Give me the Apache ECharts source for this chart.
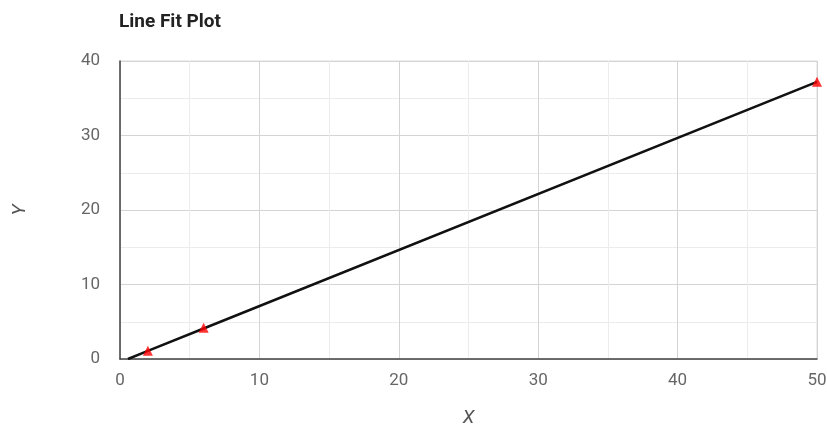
<!DOCTYPE html>
<html>
<head>
<meta charset="utf-8">
<script src="https://cdn.jsdelivr.net/npm/echarts@6/dist/echarts.min.js"></script>
<style>
  html, body { margin: 0; padding: 0; background: #fff; }
  #chart { width: 827px; height: 429px; }
</style>
</head>
<body>
<div id="chart"></div>
<script>
// Observed samples
const obsX = [2, 6, 50];
const obsY = [1.1, 4.2, 37.2];

// Fitted line, from its zero crossing to the last sample
const fitX = [0.57, 2, 6, 50];
const fitY = [0, 1.08, 4.09, 37.2];

// Axis ranges and ticks
const xTicks = [0, 10, 20, 30, 40, 50];
const yTicks = [0, 10, 20, 30, 40];

const chart = echarts.init(document.getElementById('chart'), null, { renderer: 'canvas' });

const FONT = 'Roboto, Arial, sans-serif';
const labelStyle = { color: '#666', fontSize: 17, fontFamily: FONT };
const nameStyle = { fontStyle: 'italic', color: '#555', fontSize: 19, fontFamily: FONT };

chart.setOption({
  animation: false,
  title: {
    text: 'Line Fit Plot',
    left: 114,
    top: 8,
    textStyle: { fontSize: 19, fontWeight: 'bold', color: '#222', fontFamily: FONT }
  },
  grid: {
    left: 120, right: 10, top: 61, bottom: 70,
    outerBoundsMode: 'none',
    containLabel: false,
    show: true, borderColor: '#ddd', borderWidth: 1
  },
  xAxis: {
    type: 'value',
    min: xTicks[0],
    max: xTicks[xTicks.length - 1],
    interval: 10,
    name: 'X',
    nameLocation: 'middle',
    nameGap: 50,
    nameTextStyle: nameStyle,
    axisLine: { show: true, onZero: false, lineStyle: { color: '#444', width: 1.5 } },
    axisTick: { show: false },
    axisLabel: Object.assign({ margin: 13 }, labelStyle),
    splitLine: { show: true, lineStyle: { color: '#d4d4d4', width: 1 } },
    minorTick: { show: false, splitNumber: 2 },
    minorSplitLine: { show: true, lineStyle: { color: '#ececec', width: 1 } }
  },
  yAxis: {
    type: 'value',
    min: yTicks[0],
    max: yTicks[yTicks.length - 1],
    interval: 10,
    name: 'Y',
    nameLocation: 'middle',
    nameGap: 90,
    nameRotate: 90,
    nameTextStyle: nameStyle,
    axisLine: { show: true, onZero: false, lineStyle: { color: '#444', width: 1.5 } },
    axisTick: { show: false },
    axisLabel: Object.assign({ margin: 20 }, labelStyle),
    splitLine: { show: true, lineStyle: { color: '#d4d4d4', width: 1 } },
    minorTick: { show: false, splitNumber: 2 },
    minorSplitLine: { show: true, lineStyle: { color: '#ececec', width: 1 } }
  },
  series: [
    {
      name: 'Fit',
      type: 'line',
      data: fitX.map((x, i) => [x, fitY[i]]),
      showSymbol: false,
      symbol: 'none',
      lineStyle: { color: '#111', width: 2.5 },
      z: 2
    },
    {
      name: 'Y',
      type: 'scatter',
      data: obsX.map((x, i) => [x, obsY[i]]),
      symbol: 'triangle',
      symbolSize: 10,
      clip: false,
      itemStyle: { color: '#ff0000' },
      z: 3
    }
  ]
});
</script>
</body>
</html>
